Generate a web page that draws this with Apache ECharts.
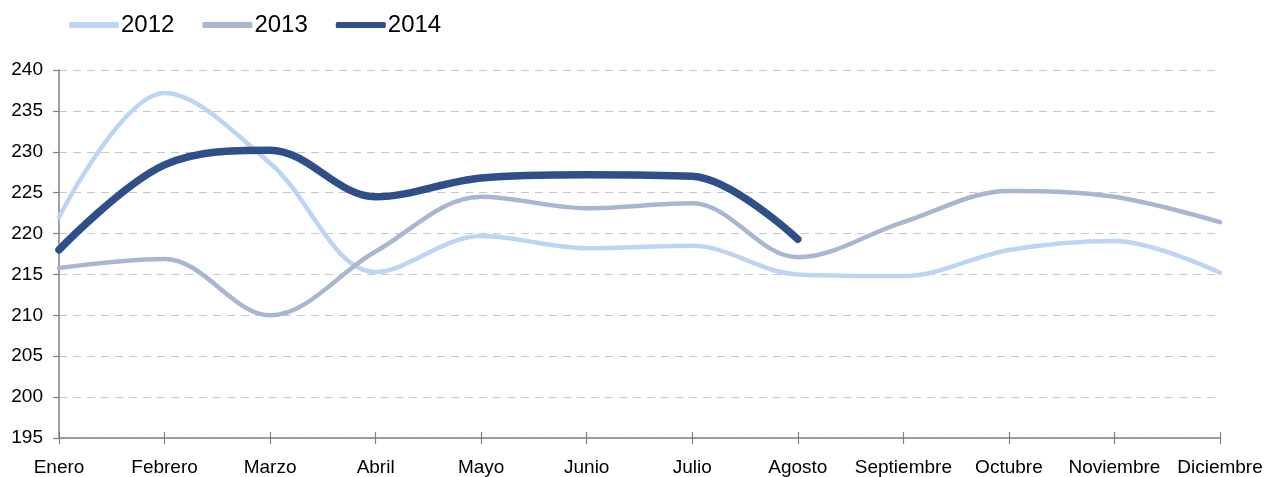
<!DOCTYPE html>
<html>
<head>
<meta charset="utf-8">
<script src="https://cdn.jsdelivr.net/npm/echarts@6/dist/echarts.min.js"></script>
<style>
    html, body { margin: 0; padding: 0; background: #fff; }
    #chart { width: 1266px; height: 477px; }
</style>
</head>
<body>
<div id="chart"></div>
<script>
const months = ['Enero', 'Febrero', 'Marzo', 'Abril', 'Mayo', 'Junio',
    'Julio', 'Agosto', 'Septiembre', 'Octubre', 'Noviembre', 'Diciembre'];
const years = ['2012', '2013', '2014'];
const values2012 = [222.0, 237.2, 228.6, 215.3, 219.7, 218.2, 218.5, 215.0, 214.8, 218.0, 219.1, 215.2];
const values2013 = [215.8, 216.9, 210.0, 217.8, 224.5, 223.1, 223.7, 217.1, 221.4, 225.2, 224.5, 221.4];
const values2014 = [218.0, 228.4, 230.2, 224.5, 226.8, 227.2, 227.0, 219.3];

const axisColor = '#808080';
const font = 'Liberation Sans, Arial, sans-serif';

const lineSeries = (name, data, color, width) => ({
    name,
    type: 'line',
    data,
    smooth: 0.35,
    symbol: 'none',
    color,
    lineStyle: { color, width, cap: 'round' }
});

const chart = echarts.init(document.getElementById('chart'));
chart.setOption({
    animation: false,
    textStyle: { fontFamily: font },
    legend: {
        data: years,
        left: 64,
        top: 8,
        itemWidth: 50,
        itemHeight: 6,
        itemGap: 28,
        icon: 'roundRect',
        textStyle: { fontSize: 24, color: '#000', fontFamily: font, padding: [0, 0, 0, -3] }
    },
    grid: { left: 59, right: 46, top: 70, bottom: 39 },
    xAxis: [{
        type: 'category',
        data: months,
        boundaryGap: false,
        axisLine: { lineStyle: { color: axisColor, width: 1.5 } },
        axisTick: { length: 6, lineStyle: { color: axisColor, width: 1.2 } },
        axisLabel: { color: '#000', fontSize: 19, margin: 20, fontFamily: font, interval: 0 },
        splitLine: { show: false }
    }, {
        // second copy only to draw the tick halves above the axis
        type: 'category',
        data: months,
        boundaryGap: false,
        position: 'bottom',
        axisLine: { show: true, lineStyle: { color: 'rgba(0,0,0,0)' } },
        axisTick: { show: true, inside: true, length: 6, lineStyle: { color: axisColor, width: 1.2 } },
        axisLabel: { show: false },
        splitLine: { show: false }
    }],
    yAxis: {
        type: 'value',
        min: 195,
        max: 240,
        interval: 5,
        axisLine: { show: true, lineStyle: { color: axisColor, width: 1.5 } },
        axisTick: { show: true, length: 6, lineStyle: { color: axisColor, width: 1.2 } },
        axisLabel: { color: '#000', fontSize: 19, margin: 16, fontFamily: font },
        splitLine: { lineStyle: { color: '#c8c8c8', type: [8, 6], width: 1 } }
    },
    series: [
        lineSeries('2012', values2012, '#bdd4f4', 4.5),
        lineSeries('2013', values2013, '#a9b6cf', 4.5),
        lineSeries('2014', values2014, '#2e4f88', 7.5)
    ]
});
</script>
</body>
</html>
